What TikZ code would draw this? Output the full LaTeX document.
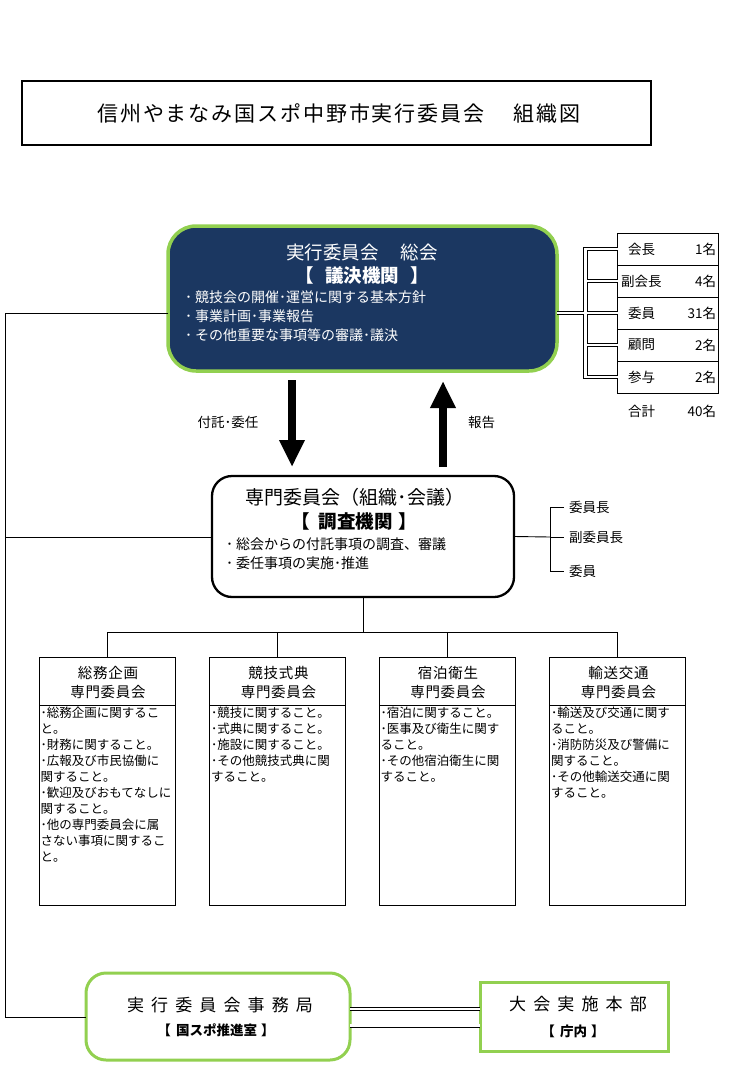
\documentclass[tikz,border=0pt]{standalone}
\usepackage{fontspec}
\setmainfont{Noto Sans CJK JP}
\usetikzlibrary{arrows.meta}
\definecolor{navy}{RGB}{27,55,97}
\definecolor{lgreen}{RGB}{146,208,80}
\newcommand{\fs}[2]{\fontsize{#1}{#2}\selectfont}
\begin{document}
\begin{tikzpicture}[x=1pt,y=-1pt,
  every node/.style={inner sep=0pt, outer sep=0pt},
  ln/.style={draw=black, line width=0.9pt},
  dbl/.style={draw=black, line width=0.8pt, double=white, double distance=2.4pt},
  cell/.style={draw=black, line width=1pt, minimum width=101pt, minimum height=32pt},
  lbl/.style={font=\fs{13.5}{16}},
  cbox/.style={draw=black, line width=0.9pt, minimum width=136pt, minimum height=248pt, anchor=north},
  chead/.style={align=center, font={\fs{14.5}{19}\addfontfeature{LetterSpace=5}}},
  cbody/.style={align=left, anchor=north west, font=\fs{12.5}{16}},
  bigarrow/.style={line width=8.5pt, -{Triangle[width=24pt,length=27pt]}},
  greenbox/.style={draw=lgreen, line width=3pt, fill=white},
  dblout/.style={draw=black, line width=4.2pt, line join=miter},
  dblin/.style={draw=white, line width=2.4pt, line join=miter}
]
\useasboundingbox (0,0) rectangle (737,1089);

% title
\node[draw, line width=1.6pt, minimum width=629pt, minimum height=64pt] (title) at (336.5,113) {};
\node[font={\fs{21}{24}\addfontfeature{LetterSpace=9}}] (titletext) at (339,113) {信州やまなみ国スポ中野市実行委員会\hspace{1.4em}組織図};

% general assembly
\node[draw=lgreen, line width=3.5pt, fill=navy, rounded corners=28pt, minimum width=389pt, minimum height=145pt] (soukai) at (362.5,298.5) {};
\node[text=white, font=\fs{18.5}{22}] (s1) at (362,252) {実行委員会\hspace{1.2em}総会};
\node[text=white, font=\fs{18.5}{22}\bfseries] (s2) at (362,275) {【\hspace{0.6em}議決機関\hspace{0.6em}】};
\node[text=white, align=left, anchor=west, font=\fs{14}{19}] (s3) at (185,316) {･ 競技会の開催･運営に関する基本方針\\･ 事業計画･事業報告\\･ その他重要な事項等の審議･議決};

% officer table
\node[cell] (r1) at (668,249) {};
\node[cell] (r2) at (668,281) {};
\node[cell] (r3) at (668,313) {};
\node[cell] (r4) at (668,345) {};
\node[cell] (r5) at (668,377) {};
\node[lbl, anchor=west] (r1a) at (628,249) {会長};
\node[lbl, anchor=east] (r1b) at (716,249) {1名};
\node[lbl, anchor=west] (r2a) at (621,281) {副会長};
\node[lbl, anchor=east] (r2b) at (716,281) {4名};
\node[lbl, anchor=west] (r3a) at (628,313) {委員};
\node[lbl, anchor=east] (r3b) at (716,313) {31名};
\node[lbl, anchor=west] (r4a) at (628,345) {顧問};
\node[lbl, anchor=east] (r4b) at (716,345) {2名};
\node[lbl, anchor=west] (r5a) at (628,377) {参与};
\node[lbl, anchor=east] (r5b) at (716,377) {2名};
\node[lbl, anchor=west] (sumA) at (628,411) {合計};
\node[lbl, anchor=east] (sumB) at (716,411) {40名};

\coordinate (dv) at (585.5,313);
\coordinate (dvT) at (585.5,249);
\coordinate (dvB) at (585.5,377);
\draw[dblout] (r1.west) -- (dvT) -- (dvB) -- (r5.west);
\draw[dblout] (soukai.east |- r3.west) -- (r3.west);
\draw[dblout] (dv |- r2.west) -- (r2.west);
\draw[dblout] (dv |- r4.west) -- (r4.west);
\draw[dblin] (r1.west) -- (dvT) -- (dvB) -- (r5.west);
\draw[dblin] (soukai.east |- r3.west) -- (r3.west);
\draw[dblin] (dv |- r2.west) -- (r2.west);
\draw[dblin] (dv |- r4.west) -- (r4.west);

% arrows
\coordinate (aDs) at (292,380);
\coordinate (aDe) at (292,467);
\coordinate (aUs) at (443,467);
\coordinate (aUe) at (443,381);
\draw[bigarrow] (aDs) -- (aDe);
\draw[bigarrow] (aUs) -- (aUe);
\node[font=\fs{13.5}{16}] (lbl1) at (228,422) {付託･委任};
\node[font=\fs{13.5}{16}, anchor=west] (lbl2) at (468,422) {報告};

% specialist committee
\node[draw, line width=2.3pt, rounded corners=20pt, minimum width=302pt, minimum height=121pt, fill=white] (senmon) at (363,536.5) {};
\node[font=\fs{19}{22}] (m1) at (355,497) {専門委員会（組織･会議）};
\node[font=\fs{18.5}{22}\bfseries] (m2) at (354,522) {【\hspace{0.5em}調査機関\hspace{0.3em}】};
\node[align=left, anchor=west, font=\fs{14}{19}] (m3) at (226,553.5) {･ 総会からの付託事項の調査、審議\\･ 委任事項の実施･推進};

% right bracket of specialist committee
\coordinate (mb) at (550,537);
\node[lbl, anchor=west] (k1) at (569,507.5) {委員長};
\node[lbl, anchor=west] (k2) at (569,537.5) {副委員長};
\node[lbl, anchor=west] (k3) at (569,571) {委員};
\draw[ln] (senmon.east) -- (mb);
\draw[ln] ([xshift=-5pt]k1.west) -| (mb |- k3.west) -- ([xshift=-5pt]k3.west);
\draw[ln] (mb) -- ([xshift=-5pt]k2.west |- mb);

% four subcommittees
\node[cbox] (c1) at (107,657) {};
\node[cbox] (c2) at (277.5,657) {};
\node[cbox] (c3) at (447,657) {};
\node[cbox] (c4) at (617.5,657) {};
\foreach \cc in {c1,c2,c3,c4}{
  \draw[ln] (\cc.west |- 0,705) -- (\cc.east |- 0,705);
}
\node[chead] (h1) at (108,682.5) {総務企画\\専門委員会};
\node[chead] (h2) at (278.5,682.5) {競技式典\\専門委員会};
\node[chead] (h3) at (448,682.5) {宿泊衛生\\専門委員会};
\node[chead] (h4) at (618.5,682.5) {輸送交通\\専門委員会};
\node[cbody] (b1) at (40.5,707) {･総務企画に関するこ\\と。\\･財務に関すること。\\･広報及び市民協働に\\関すること。\\･歓迎及びおもてなしに\\関すること。\\･他の専門委員会に属\\さない事項に関するこ\\と。};
\node[cbody] (b2) at (211,707) {･競技に関すること。\\･式典に関すること。\\･施設に関すること。\\･その他競技式典に関\\すること。};
\node[cbody] (b3) at (380.5,707) {･宿泊に関すること。\\･医事及び衛生に関す\\ること。\\･その他宿泊衛生に関\\すること。};
\node[cbody] (b4) at (551,707) {･輸送及び交通に関す\\ること。\\･消防防災及び警備に\\関すること。\\･その他輸送交通に関\\すること。};

\coordinate (hub) at (363,632);
\draw[ln] (senmon.south) -- (hub);
\draw[ln] (c1.north) -- (c1.north |- hub) -- (c4.north |- hub) -- (c4.north);
\draw[ln] (c2.north) -- (c2.north |- hub);
\draw[ln] (c3.north) -- (c3.north |- hub);

% bottom boxes
\node[greenbox, rounded corners=20pt, minimum width=264pt, minimum height=87pt] (jimu) at (218,1016.5) {};
\node[font={\fs{17}{20}\addfontfeature{LetterSpace=42}}] (j1) at (220,1005) {実行委員会事務局};
\node[font=\fs{13.5}{15}\bfseries] (j2) at (216,1030) {【\hspace{0.4em}国スポ推進室\hspace{0.3em}】};
\node[greenbox, minimum width=188pt, minimum height=69pt] (honbu) at (574,1016.5) {};
\node[font={\fs{17}{20}\addfontfeature{LetterSpace=42}}] (h1t) at (578,1004) {大会実施本部};
\node[font=\fs{13.5}{15}\bfseries] (h2t) at (573,1031) {【\hspace{0.4em}庁内\hspace{0.3em}】};

\draw[dbl] (jimu.east |- 0,1009) -- (honbu.west |- 0,1009);
\draw[dbl] (jimu.east |- 0,1025.5) -- (honbu.west |- 0,1025.5);

% left trunk line
\coordinate (Ltop) at (5,313);
\coordinate (Lmid) at (5,537);
\coordinate (Lbot) at (5,1017);
\draw[ln] (soukai.west |- Ltop) -- (Ltop) -- (Lbot) -- (jimu.west |- Lbot);
\draw[ln] (Lmid) -- (senmon.west |- Lmid);
\end{tikzpicture}
\end{document}
